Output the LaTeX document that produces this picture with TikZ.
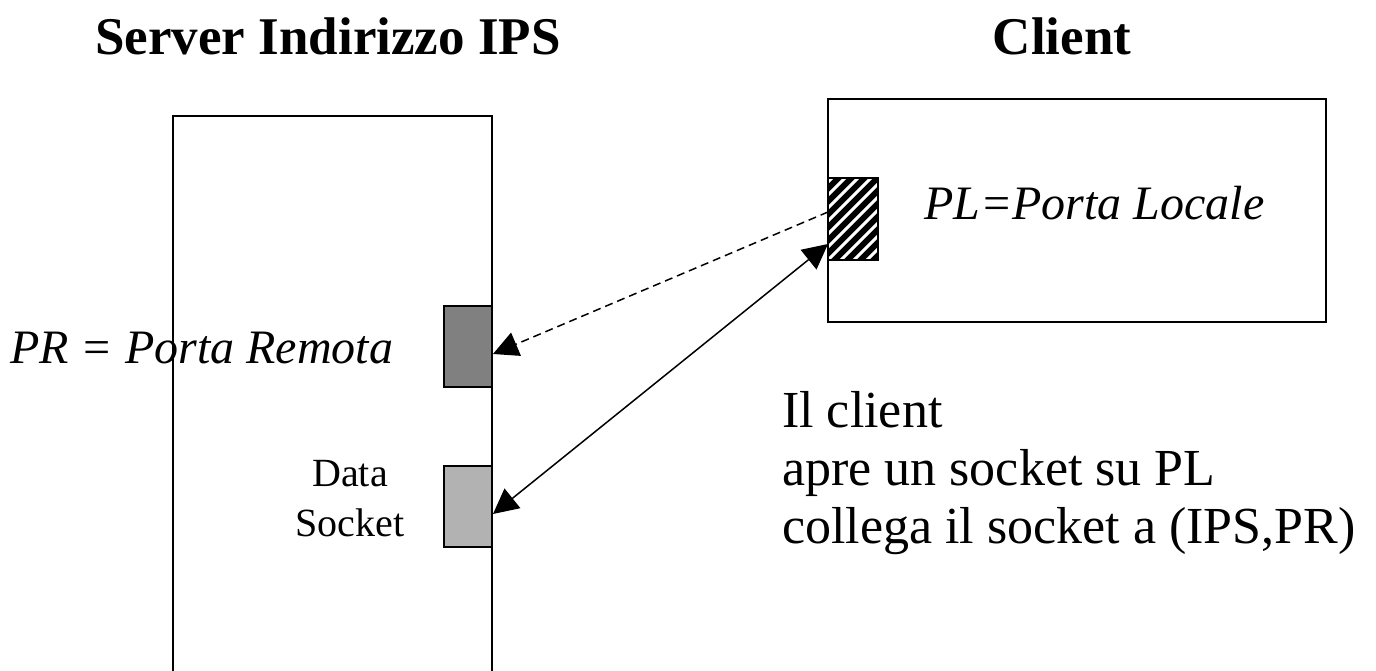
\documentclass[tikz,border=0pt]{standalone}
\usepackage{fontspec}
\setmainfont{Liberation Serif}
\usetikzlibrary{arrows.meta}
\begin{document}
\begin{tikzpicture}[x=1pt,y=1pt,
  box/.style={draw=black,line width=2pt,inner sep=0pt,anchor=north west},
  port/.style={draw=black,line width=2pt,inner sep=0pt,minimum width=48pt,minimum height=81pt,anchor=north west},
  conn/.style={line width=1.5pt,-{Triangle[length=25pt,width=25pt]}},
  title/.style={font=\fontsize{53}{60}\selectfont\bfseries,inner sep=0pt},
  lab/.style={font=\fontsize{48}{58}\selectfont\itshape,inner sep=0pt,anchor=base west},
  txt/.style={font=\fontsize{52}{58}\selectfont,inner sep=0pt,anchor=base west},
  small/.style={font=\fontsize{40}{48}\selectfont,inner sep=0pt,anchor=base}]
\useasboundingbox (0,0) rectangle (1376,671);
% server box (open at the bottom edge of the page)
\begin{scope}
\clip (0,0) rectangle (1376,671);
\node[box,minimum width=319pt,minimum height=570pt] (server) at (172,556) {};
\end{scope}
% client box
\node[box,minimum width=498pt,minimum height=223pt] (client) at (827,573) {};
% ports
\node[port,fill=black!50] (pr) at (443,366) {};
\node[port,fill=black!30] (ds) at (443,206) {};
% hatched local port
\node[port,minimum height=80pt,fill=black] (pl) at (828,493) {};
\begin{scope}
\clip (pl.south west) rectangle (pl.north east);
\foreach \k in {-130,-117,...,60}
  \draw[white,line width=3pt] ([xshift=\k pt]pl.south west) -- ++(100,100);
\end{scope}
\draw[line width=2pt] (pl.south west) rectangle (pl.north east);
% connectors
\draw[conn,dashed,dash pattern=on 8pt off 5pt] ([yshift=7pt]pl.west) -- ([yshift=-7.5pt]pr.east);
\draw[conn,{Triangle[length=25pt,width=25pt]}-{Triangle[length=25pt,width=25pt]}] ([yshift=-25pt]pl.west) -- ([yshift=-7.5pt]ds.east);
% texts
\node[title] (t1) at (328,635) {Server Indirizzo IPS};
\node[title] (t2) at (1062,635) {Client};
\node[lab] (lpl) at (924,451) {PL=Porta Locale};
\node[lab] (lpr) at (10,307) {PR = Porta Remota};
\node[small] (d1) at (350,184) {Data};
\node[small] (d2) at (350,134) {Socket};
\node[txt] (c1) at (782,243) {Il client};
\node[txt] (c2) at (782,185) {apre un socket su PL};
\node[txt] (c3) at (782,127) {collega il socket a (IPS,PR)};
\end{tikzpicture}
\end{document}
